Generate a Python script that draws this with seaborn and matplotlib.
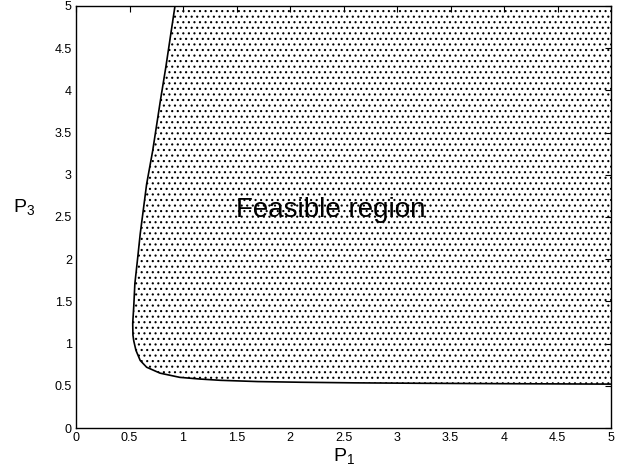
import seaborn as sns
import matplotlib.pyplot as plt

# boundary of the feasible region (top -> right)
p1_bound = [0.925, 0.84, 0.79, 0.716, 0.66, 0.60, 0.575, 0.55, 0.54, 0.53,
            0.532, 0.54, 0.56, 0.60, 0.66, 0.785, 0.97, 1.16, 1.35, 1.70,
            2.10, 2.60, 3.20, 4.00, 5.00]
p3_bound = [5.0, 4.28, 3.89, 3.28, 2.89, 2.30, 2.0, 1.71, 1.45, 1.24,
            1.10, 1.03, 0.92, 0.80, 0.72, 0.65, 0.60, 0.58, 0.565, 0.55,
            0.542, 0.535, 0.53, 0.525, 0.52]

tick_vals = [0, 0.5, 1, 1.5, 2, 2.5, 3, 3.5, 4, 4.5, 5]
tick_labels = ["0", "0.5", "1", "1.5", "2", "2.5", "3", "3.5", "4", "4.5", "5"]

sns.set_theme(style="white")
plt.rcParams["font.family"] = ["Liberation Sans", "DejaVu Sans"]
plt.rcParams["mathtext.fontset"] = "custom"
plt.rcParams["mathtext.rm"] = "Liberation Sans"
plt.rcParams["hatch.linewidth"] = 0.8
plt.rcParams["text.color"] = "black"
plt.rcParams["axes.labelcolor"] = "black"

fig = plt.figure(figsize=(6.21, 4.69), dpi=100)
ax = fig.add_axes([0.1224, 0.0874, 0.8616, 0.9])

# dotted fill of the feasible region (curve + top-right corner)
poly_x = p1_bound + [5.0]
poly_y = p3_bound + [5.0]
ax.fill(poly_x, poly_y, facecolor="none", edgecolor="black",
        linewidth=0, hatch="...")

sns.lineplot(x=p1_bound, y=p3_bound, sort=False, estimator=None,
             color="black", linewidth=1.2, ax=ax)

ax.text(2.38, 2.58, "Feasible region", fontsize=20, ha="center", va="center",
        color="black")

ax.set_xlim(0, 5)
ax.set_ylim(0, 5)
ax.set_xticks(tick_vals)
ax.set_xticklabels(tick_labels)
ax.set_yticks(tick_vals)
ax.set_yticklabels(tick_labels)
ax.tick_params(direction="in", top=True, right=True, length=4, width=0.8,
               labelsize=9, pad=3, colors="black")
ax.set_xlabel(r"$\mathregular{P_1}$", fontsize=14, labelpad=1)
ax.set_ylabel(r"$\mathregular{P_3}$", fontsize=14, rotation=0, labelpad=22)
for s in ax.spines.values():
    s.set_color("black")
    s.set_linewidth(1.0)
ax.grid(False)

plt.savefig("out.png", dpi=100)
plt.close()
